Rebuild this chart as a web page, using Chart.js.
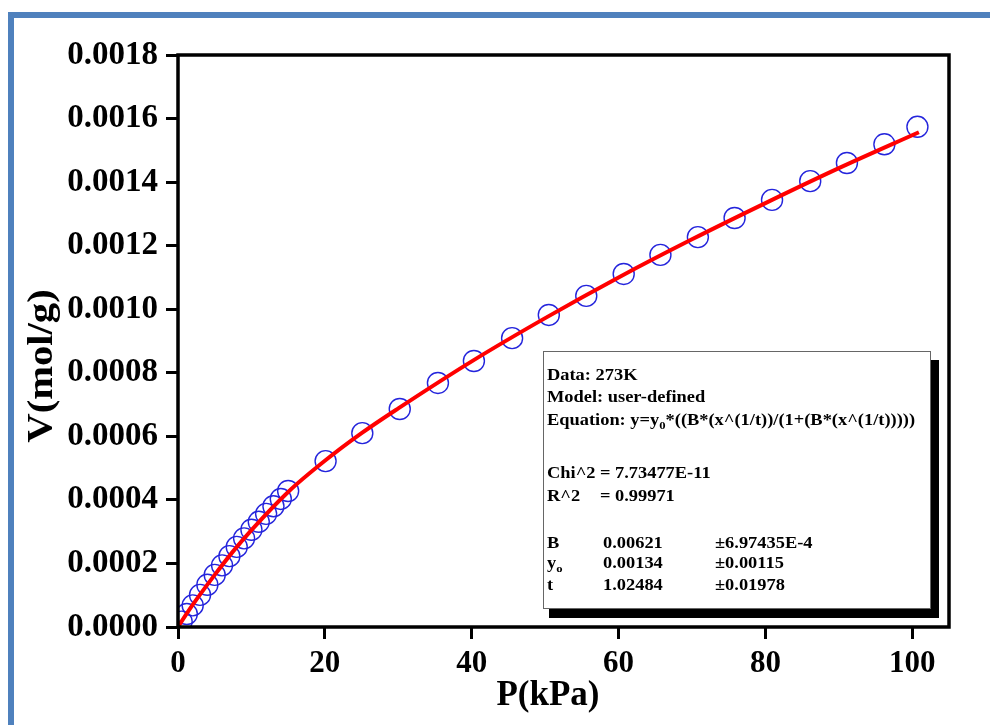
<!DOCTYPE html>
<html>
<head>
<meta charset="utf-8">
<script src="https://cdn.jsdelivr.net/npm/chart.js@4.4.1/dist/chart.umd.min.js"></script>
<style>
  html, body { margin: 0; padding: 0; background: #fff; overflow: hidden; }
  #frame { position: absolute; left: 8px; top: 12px; width: 976px; height: 707px;
           border-top: 6px solid #4f81bd; border-left: 6px solid #4f81bd; }
  #wrap { position: absolute; left: 0; top: 0; width: 990px; height: 725px; }
</style>
</head>
<body>
<div id="frame"></div>
<div id="wrap"><canvas id="chart_box" width="990" height="725"></canvas></div>
<script>
// 273 K isotherm: pressure (kPa) and uptake (mol/g)
var pressure = [0.5, 1.2, 2.0, 3.0, 4.0, 5.0, 6.0, 7.0, 8.0, 9.0, 10.0, 11.0, 12.0, 13.0, 14.0, 15.0,
                20.1, 25.1, 30.2, 35.4, 40.3, 45.5, 50.5, 55.6, 60.7, 65.7, 70.8, 75.8, 80.9, 86.1, 91.1, 96.2, 100.7];
var uptake = [0.000017, 0.000041, 0.000068, 0.000101, 0.000133, 0.000164, 0.000194, 0.000223,
              0.000252, 0.000279, 0.000306, 0.000331, 0.000356, 0.000380, 0.000403, 0.000428,
              0.000522, 0.000610, 0.000686, 0.000768, 0.000837, 0.000909, 0.000982, 0.001042,
              0.001111, 0.001171, 0.001227, 0.001287, 0.001344, 0.001403, 0.001460, 0.001519, 0.001574];

// fitted curve
var fitP = [0, 1, 2.5, 5, 7.5, 10, 15, 20, 25, 30, 40, 50, 60, 70, 80, 90, 100.9];
var fitV = [0, 0.000036, 0.000086, 0.000164, 0.000238, 0.000305, 0.000425, 0.000523, 0.000610,
            0.000688, 0.000836, 0.000972, 0.001100, 0.001220, 0.001334, 0.001444, 0.001557];

var xTicks = [0, 20, 40, 60, 80, 100];
var yTicks = [0, 0.0002, 0.0004, 0.0006, 0.0008, 0.0010, 0.0012, 0.0014, 0.0016, 0.0018];

var xTitle = 'P(kPa)';
var yTitle = 'V(mol/g)';

// fit report, runs flagged "sub" are subscripts
var fitHeader = [
  [{ t: 'Data: 273K' }],
  [{ t: 'Model: user-defined' }],
  [{ t: 'Equation: y=y' }, { t: '0', sub: true }, { t: '*((B*(x^(1/t))/(1+(B*(x^(1/t)))))' }]
];
var fitStats = [['Chi^2', '7.73477E-11'], ['R^2', '0.99971']];
var paramNames = [[{ t: 'B' }], [{ t: 'y' }, { t: 'o', sub: true }], [{ t: 't' }]];
var paramValues = ['0.00621', '0.00134', '1.02484'];
var paramErrors = ['\u00b16.97435E-4', '\u00b10.00115', '\u00b10.01978'];

var SERIF = '"Liberation Serif", "Times New Roman", serif';

function drawRuns(ctx, x, y, runs) {
  runs.forEach(function (r) {
    ctx.font = r.sub ? 'bold 11px ' + SERIF : 'bold 16px ' + SERIF;
    ctx.fillText(r.t, x, r.sub ? y + 4 : y);
    x += ctx.measureText(r.t).width;
  });
}

var plotDecor = {
  id: 'plotDecor',
  afterDatasetsDraw: function (chart) {
    var ctx = chart.ctx, a = chart.chartArea;
    ctx.save();
    // closed axis frame
    ctx.strokeStyle = '#000';
    ctx.lineWidth = 3.5;
    ctx.strokeRect(a.left, a.top, a.right - a.left, a.bottom - a.top);
    ctx.restore();
  },
  afterDraw: function (chart) {
    var ctx = chart.ctx, a = chart.chartArea;
    ctx.save();
    ctx.fillStyle = '#000';
    ctx.textBaseline = 'alphabetic';

    // axis titles
    ctx.font = 'bold 35px ' + SERIF;
    ctx.textAlign = 'center';
    ctx.fillText(xTitle, a.left + 370, a.bottom + 78);
    ctx.save();
    ctx.translate(a.left - 126, a.top + 311);
    ctx.rotate(-Math.PI / 2);
    ctx.scale(1.16, 1);
    ctx.font = 'bold 35px ' + SERIF;
    ctx.fillText(yTitle, 0, 0);
    ctx.restore();

    // fit report box with drop shadow
    var bx = a.left + 365, by = a.top + 296, bw = 387, bh = 257;
    ctx.fillStyle = '#000';
    ctx.fillRect(bx + 6, by + 9, bw + 3, bh + 1);
    ctx.fillStyle = '#fff';
    ctx.fillRect(bx, by, bw, bh);
    ctx.strokeStyle = '#666';
    ctx.lineWidth = 1;
    ctx.strokeRect(bx + 0.5, by + 0.5, bw, bh);

    var sx = 1.15;
    ctx.translate(bx, by);
    ctx.scale(sx, 1);
    ctx.fillStyle = '#000';
    ctx.textAlign = 'left';
    var rowY = [29, 51, 74];
    fitHeader.forEach(function (runs, i) { drawRuns(ctx, 4 / sx, rowY[i], runs); });
    var statY = [127, 150];
    fitStats.forEach(function (s, i) {
      drawRuns(ctx, 4 / sx, statY[i], [{ t: s[0] }]);
      drawRuns(ctx, 57 / sx, statY[i], [{ t: '=' }]);
      drawRuns(ctx, 72 / sx, statY[i], [{ t: s[1] }]);
    });
    var parY = [197, 217, 239];
    paramNames.forEach(function (runs, i) {
      drawRuns(ctx, 4 / sx, parY[i], runs);
      drawRuns(ctx, 60 / sx, parY[i], [{ t: paramValues[i] }]);
      drawRuns(ctx, 172 / sx, parY[i], [{ t: paramErrors[i] }]);
    });
    ctx.restore();
  }
};

var ctx = document.getElementById('chart_box').getContext('2d');
var chart = new Chart(ctx, {
  type: 'line',
  data: {
    datasets: [{
      label: 'Fit',
      data: fitP.map(function (p, i) { return { x: p, y: fitV[i] }; }),
      borderColor: '#ff0000',
      borderWidth: 4,
      pointRadius: 0,
      fill: false,
      cubicInterpolationMode: 'monotone',
      order: 0
    }, {
      label: '273K',
      data: pressure.map(function (p, i) { return { x: p, y: uptake[i] }; }),
      showLine: false,
      pointRadius: 10.5,
      pointBorderWidth: 1.4,
      pointBorderColor: '#2424dc',
      pointBackgroundColor: 'rgba(0,0,0,0)',
      order: 1
    }]
  },
  options: {
    responsive: false,
    devicePixelRatio: 1,
    animation: false,
    layout: { padding: { left: 0, right: 41, top: 55, bottom: 0 } },
    plugins: { legend: { display: false }, tooltip: { enabled: false } },
    scales: {
      x: {
        type: 'linear',
        min: 0,
        max: 105,
        afterFit: function (s) { s.height = 98; },
        afterBuildTicks: function (s) { s.ticks = xTicks.map(function (v) { return { value: v }; }); },
        border: { display: false },
        grid: { drawOnChartArea: false, drawTicks: true, tickLength: 12, tickWidth: 3, tickColor: '#000' },
        ticks: { color: '#000', padding: 6, font: { family: SERIF, size: 31, weight: 'bold' } }
      },
      y: {
        min: 0,
        max: 0.0018,
        afterFit: function (s) { s.width = 178; },
        afterBuildTicks: function (s) { s.ticks = yTicks.map(function (v) { return { value: v }; }); },
        border: { display: false },
        grid: { drawOnChartArea: false, drawTicks: true, tickLength: 12, tickWidth: 3, tickColor: '#000' },
        ticks: {
          color: '#000', padding: 8, font: { family: SERIF, size: 33, weight: 'bold' },
          callback: function (v) { return v.toFixed(4); }
        }
      }
    }
  },
  plugins: [plotDecor]
});
</script>
</body>
</html>
